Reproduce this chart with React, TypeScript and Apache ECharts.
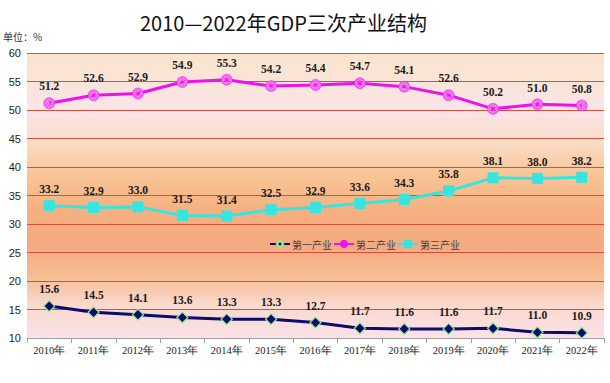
import React, { useEffect, useRef } from "react";
import * as echarts from "echarts";

const categories = ["2010年", "2011年", "2012年", "2013年", "2014年", "2015年", "2016年", "2017年", "2018年", "2019年", "2020年", "2021年", "2022年"];
const primary = [15.6, 14.5, 14.1, 13.6, 13.3, 13.3, 12.7, 11.7, 11.6, 11.6, 11.7, 11.0, 10.9];
const secondary = [51.2, 52.6, 52.9, 54.9, 55.3, 54.2, 54.4, 54.7, 54.1, 52.6, 50.2, 51.0, 50.8];
const tertiary = [33.2, 32.9, 33.0, 31.5, 31.4, 32.5, 32.9, 33.6, 34.3, 35.8, 38.1, 38.0, 38.2];
const seriesNames = ["第一产业", "第二产业", "第三产业"];

const SERIF = "'Liberation Serif', 'DejaVu Serif', serif";

const labelStyle = {
  show: true,
  position: "top" as const,
  distance: 5,
  fontFamily: SERIF,
  fontWeight: "bold" as const,
  fontSize: 11.5,
  color: "#1a1a1a",
  formatter: (p: any) => Number(p.value).toFixed(1),
};

const xMark = "path://M50,0A50,50 0 1,1 49.9,0ZM25,18L18,25L43,50L18,75L25,82L50,57L75,82L82,75L57,50L82,25L75,18L50,43Z";

export default function App() {
  const ref = useRef<HTMLDivElement>(null);
  useEffect(() => {
    if (!ref.current) return;
    const chart = echarts.init(ref.current, undefined, { renderer: "svg" });
    chart.setOption({
      animation: false,
      backgroundColor: "#ffffff",
      title: {
        text: "2010—2022年GDP三次产业结构",
        left: 135,
        top: 7,
        textStyle: { fontFamily: "'Noto Sans CJK SC'", fontWeight: "normal", fontSize: 20, color: "#111" },
      },
      graphic: [
        {
          type: "text",
          left: 3,
          top: 31,
          style: { text: "单位：%", fontSize: 10, fontFamily: "'Noto Sans CJK SC'", fill: "#333" },
        },
      ],
      legend: {
        data: seriesNames,
        left: 264,
        top: 234,
        itemWidth: 20,
        itemHeight: 8,
        itemGap: 1,
        textStyle: { fontFamily: "'Noto Sans CJK SC'", fontSize: 10, color: "#444", padding: [0, 0, 0, -3] },
      },
      grid: {
        left: 27,
        right: 6,
        top: 53,
        bottom: 45,
        show: true,
        borderWidth: 0,
        backgroundColor: new echarts.graphic.LinearGradient(0, 0, 0, 1, [
          { offset: 0, color: "#fbe4cc" },
          { offset: 0.1, color: "#fae4d8" },
          { offset: 0.2, color: "#f9e4ea" },
          { offset: 0.3, color: "#fbdfcc" },
          { offset: 0.42, color: "#f8c698" },
          { offset: 0.55, color: "#f5b080" },
          { offset: 0.68, color: "#f4aa80" },
          { offset: 0.78, color: "#f7bc92" },
          { offset: 0.88, color: "#fad8cc" },
          { offset: 1, color: "#fbe2e8" },
        ]),
      },
      xAxis: {
        type: "category",
        data: categories,
        boundaryGap: true,
        axisLine: { lineStyle: { color: "#a0a0a0", width: 1 } },
        axisTick: { show: true, inside: false, length: 5, lineStyle: { color: "#a0a0a0" } },
        axisLabel: { interval: 0, fontFamily: SERIF, fontSize: 10.5, color: "#222", margin: 7 },
      },
      yAxis: {
        type: "value",
        min: 10,
        max: 60,
        interval: 5,
        axisLine: { show: false },
        axisTick: { show: false },
        axisLabel: { fontFamily: "'Liberation Sans', Arial, sans-serif", fontSize: 11, color: "#222", margin: 6 },
        splitLine: { lineStyle: { color: "#d9503a", width: 1 } },
      },
      series: [
        {
          name: seriesNames[0],
          type: "line",
          data: primary,
          symbol: "diamond",
          symbolSize: 11,
          lineStyle: { color: "#0c0c70", width: 3 },
          itemStyle: { color: "#0c0c70", borderColor: "#8ef08e", borderWidth: 1.2 },
          label: labelStyle,
          z: 3,
        },
        {
          name: seriesNames[1],
          type: "line",
          data: secondary,
          symbol: xMark,
          symbolSize: 11,
          lineStyle: { color: "#ee10ee", width: 3 },
          itemStyle: { color: "#f070f0", borderColor: "#ee10ee", borderWidth: 0.5 },
          label: labelStyle,
          z: 3,
        },
        {
          name: seriesNames[2],
          type: "line",
          data: tertiary,
          symbol: "rect",
          symbolSize: 10,
          lineStyle: { color: "#38e4e0", width: 3 },
          itemStyle: { color: "#38e4e0", borderColor: "#38e4e0", borderWidth: 1 },
          label: labelStyle,
          z: 3,
        },
      ],
    });
    return () => chart.dispose();
  }, []);
  return <div ref={ref} style={{ width: 610, height: 383, position: "absolute", left: 0, top: 0 }} />;
}
